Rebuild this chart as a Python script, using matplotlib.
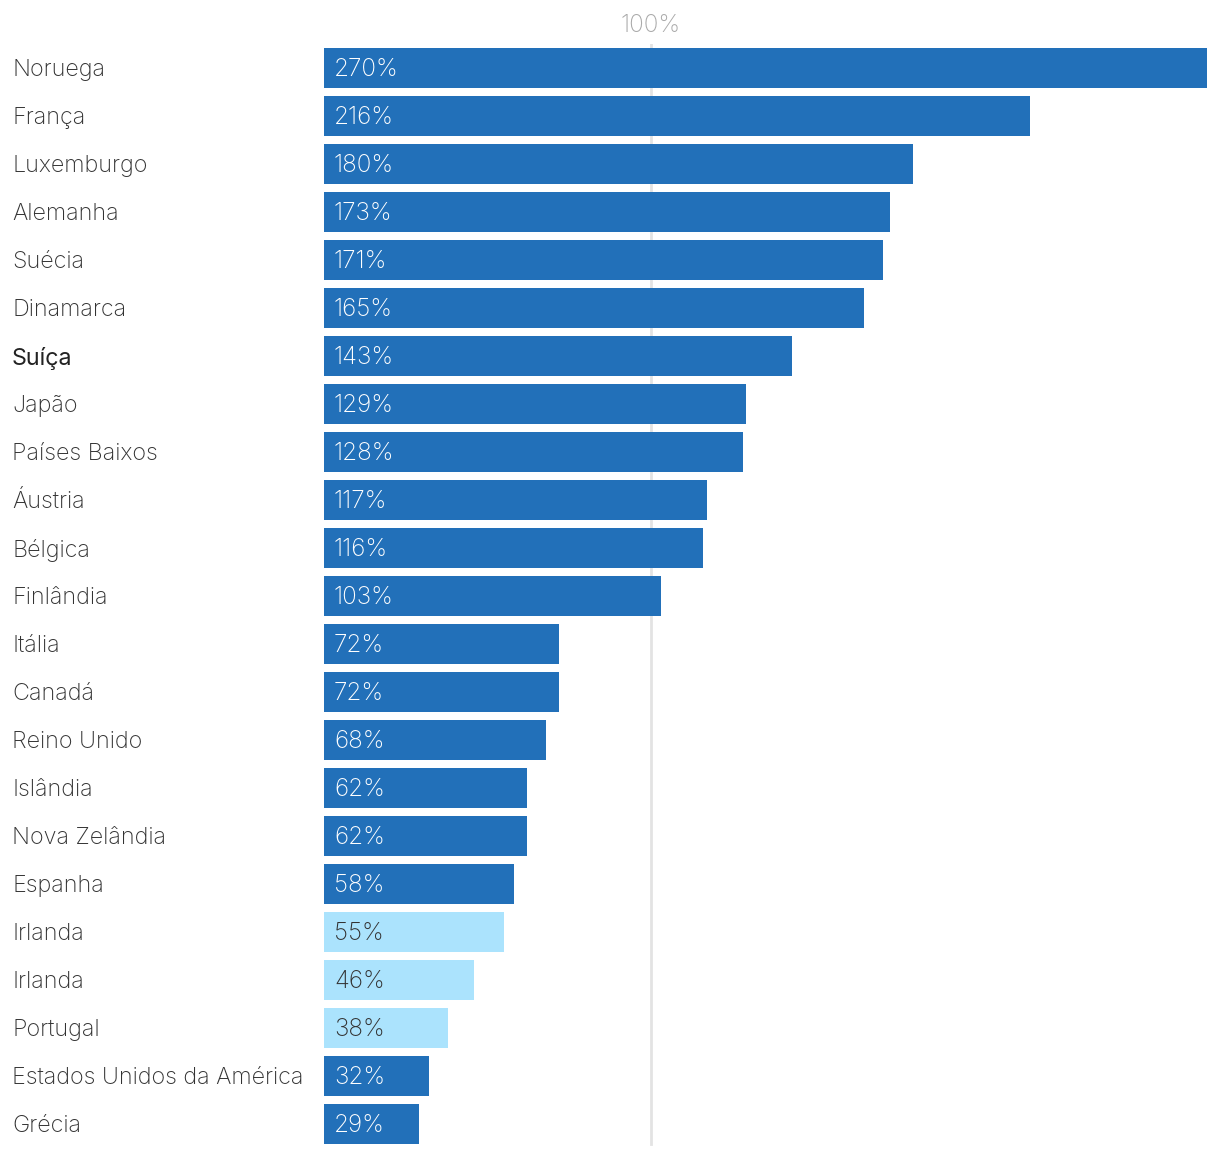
import numpy as np
import matplotlib.pyplot as plt

countries = ['Noruega', 'França', 'Luxemburgo', 'Alemanha', 'Suécia', 'Dinamarca',
             'Suíça', 'Japão', 'Países Baixos', 'Áustria', 'Bélgica', 'Finlândia',
             'Itália', 'Canadá', 'Reino Unido', 'Islândia', 'Nova Zelândia', 'Espanha',
             'Irlanda', 'Irlanda', 'Portugal', 'Estados Unidos da América', 'Grécia']
values = [270, 216, 180, 173, 171, 165, 143, 129, 128, 117, 116, 103,
          72, 72, 68, 62, 62, 58, 55, 46, 38, 32, 29]
highlight = [False] * 18 + [True, True, True, False, False]
bold_label = 'Suíça'

dark = '#2270b9'
light = '#abe3fd'

plt.rcParams['font.family'] = ['Inter', 'DejaVu Sans']

W, H = 1220, 1154
fig = plt.figure(figsize=(W / 100, H / 100), dpi=100)
ax = fig.add_axes([324 / W, 1 - 1148 / H, (1208 - 324) / W, (1148 - 44) / H])

y = np.arange(len(countries))
colors = [light if h else dark for h in highlight]
ax.axvline(100, ymin=0.004, ymax=1.004, color='#e3e3e3', lw=2, zorder=0)
ax.barh(y, values, height=40 / 48, color=colors, zorder=2)

ax.set_xlim(0, (1208 - 324) / 3.27)
ax.set_ylim(len(countries) - 0.5, -0.5)
ax.axis('off')

for i, (c, v, h) in enumerate(zip(countries, values, highlight)):
    ax.text(10 / 3.27, i + 0.04, f'{v}%', va='center', ha='left', fontsize=17.5,
            fontweight='light', color='#333333' if h else 'white', zorder=3)
    fig.text(12 / W, 1 - (70 + 48 * i) / H, c, va='center', ha='left', fontsize=16.8,
             color='#222222' if c == bold_label else '#333333',
             fontweight='normal' if c == bold_label else 'light')

fig.text(651 / W, 1 - 25 / H, '100%', ha='center', va='center', fontsize=17.5,
         fontweight='light', color='#aaaaaa')

fig.savefig('out.png', dpi=100)
